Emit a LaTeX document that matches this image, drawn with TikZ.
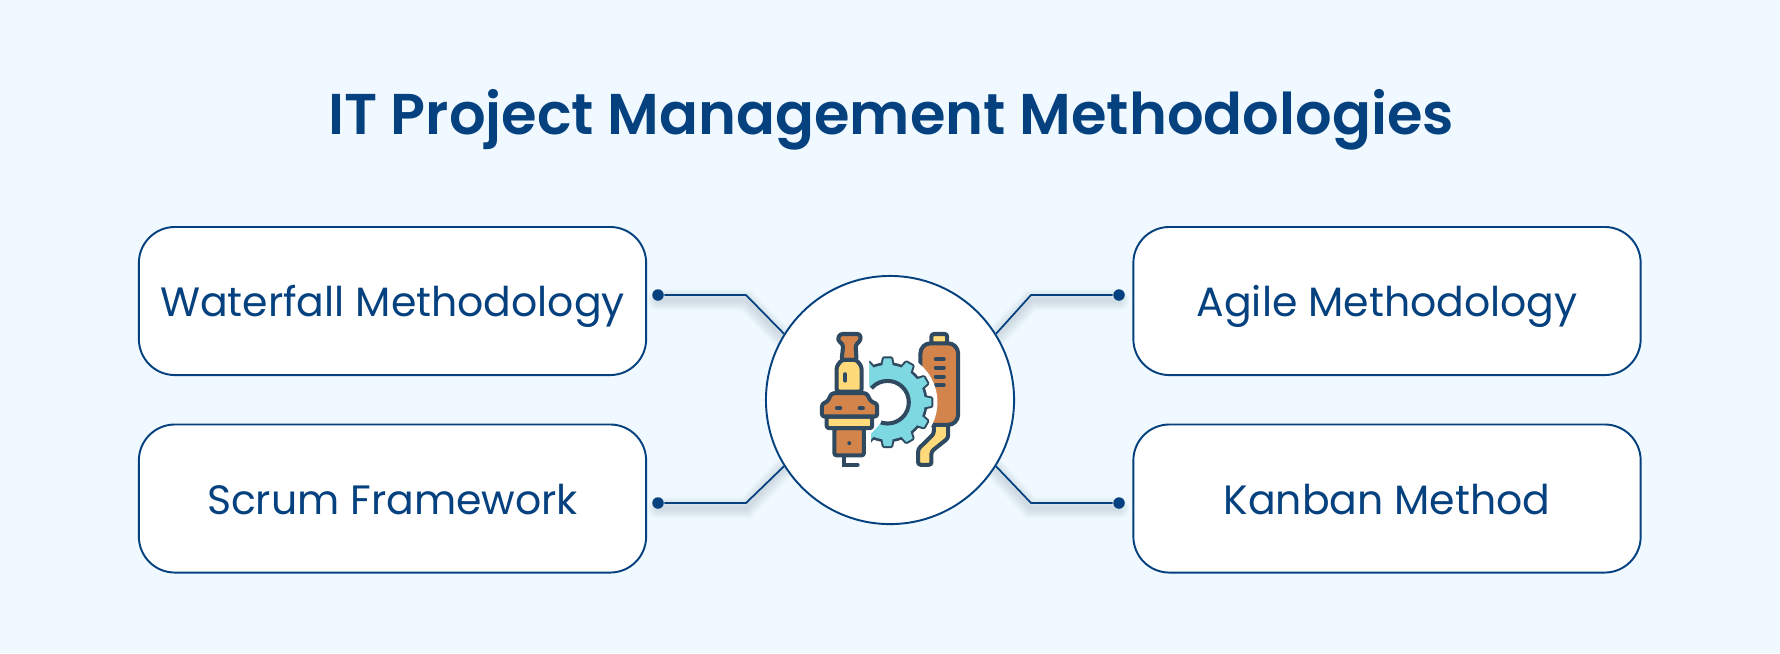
\documentclass[tikz,border=0pt]{standalone}
\usepackage{fontspec}
\setmainfont{Poppins}
\newfontfamily\titlefont{Poppins SemiBold}
\usetikzlibrary{positioning}
\definecolor{navy}{HTML}{05417F}
\definecolor{backcol}{HTML}{F0F9FF}
\definecolor{icondark}{HTML}{2F4A60}
\definecolor{iconorange}{HTML}{D2844B}
\definecolor{iconyellow}{HTML}{FFDA7A}
\definecolor{iconcyan}{HTML}{7ED8E2}
\tikzset{
  methodbox/.style={draw=navy, line width=0.55pt, fill=white, rounded corners=0.36cm,
    minimum width=5.07cm, minimum height=1.48cm, inner sep=0pt, text=navy,
    text height=10pt, text depth=1pt, font=\fontsize{11.65}{14}\selectfont},
  hubnode/.style={circle, draw=navy, line width=0.55pt, fill=white, minimum size=2.48cm, inner sep=0pt},
  enddot/.style={circle, fill=navy, minimum size=0.115cm, inner sep=0pt},
  wire/.style={draw=navy, line width=0.5pt},
  wireshade/.style={draw=icondark, opacity=0.028, line cap=round},
  iconpart/.style={draw=icondark, line width=1.15pt, line join=round, rounded corners=0.025cm},
  iconmark/.style={draw=icondark, line width=1.15pt, line cap=round}
}
\begin{document}
\begin{tikzpicture}[x=0.01cm, y=-0.01cm]
\fill[backcol] (0,0) rectangle (1780,653);
\useasboundingbox (0,0) rectangle (1780,653);

\node[text=navy, font=\fontsize{16.35}{20}\titlefont] (title) at (891,120) {IT Project Management Methodologies};

% shades under the wires
\foreach \w in {1,2,...,6}{
\draw[wireshade, line width=\w pt, yshift=-0.05cm] (658,295) -- (746,295) -- (783,333);
\draw[wireshade, line width=\w pt, yshift=-0.05cm] (658,503) -- (746,503) -- (783,464);
\draw[wireshade, line width=\w pt, yshift=-0.05cm] (1119,295) -- (1031,295) -- (995,333);
\draw[wireshade, line width=\w pt, yshift=-0.05cm] (1119,503) -- (1031,503) -- (995,464);
}

\node[methodbox] (waterfall) at (392.5,301) {Waterfall Methodology};
\node[methodbox] (scrum) at (392.5,498.5) {Scrum Framework};
\node[methodbox] (agile) at (1387,301) {Agile Methodology};
\node[methodbox] (kanban) at (1387,498.5) {Kanban Method};
\node[hubnode] (hub) at (890,400) {};

\node[enddot] (dotwf) at (658,295) {};
\node[enddot] (dotsc) at (658,503) {};
\node[enddot] (dotag) at (1119,295) {};
\node[enddot] (dotkb) at (1119,503) {};
\coordinate (bendwf) at (746,295);
\coordinate (bendsc) at (746,503);
\coordinate (bendag) at (1031,295);
\coordinate (bendkb) at (1031,503);

\draw[wire] (dotwf) -- (bendwf) -- (hub.148);
\draw[wire] (dotsc) -- (bendsc) -- (hub.212);
\draw[wire] (dotag) -- (bendag) -- (hub.32);
\draw[wire] (dotkb) -- (bendkb) -- (hub.328);

\begin{scope}[shift={(790,310)}, x=0.00333cm, y=-0.00333cm]
% muffler
\draw[iconpart, fill=iconyellow] (425,72) rectangle (472,102);
\draw[iconpart, fill=iconyellow] (432,340) -- (475,340) -- (475,385) -- (425,425) -- (425,465) -- (385,465) -- (385,418) -- (432,372) -- cycle;
\draw[iconpart, fill=iconorange, rounded corners=0.1cm] (392,100) rectangle (505,345);
\foreach \y in {148,173,200,226}{
\draw[iconmark] (438,\y) -- (462,\y);
}
% gear
\fill[white] (293,277) circle (150);
\foreach \a in {0,30,...,330}{
\draw[iconpart, rounded corners=0pt, shift={(293,277)}, rotate=\a] (100,-18) -- (132,-11) -- (132,11) -- (100,18) -- cycle;
}
\draw[iconpart, fill=iconcyan] (293,277) circle (114);
\foreach \a in {0,30,...,330}{
\fill[iconcyan, shift={(293,277)}, rotate=\a] (100,-18) -- (132,-11) -- (132,11) -- (100,18) -- cycle;
}
\fill[iconcyan] (293,277) circle (112);
\draw[iconpart, fill=white] (293,277) circle (64);
\fill[white] (120,130) -- (238,130) -- (238,230) -- (293,277) -- (272,340) -- (243,372) -- (243,420) -- (120,420) -- cycle;
% spark plug
\draw[iconpart, fill=iconorange] (150,72) -- (210,72) -- (213,90) -- (197,105) -- (200,150) -- (155,150) -- (160,105) -- (143,90) -- cycle;
\draw[iconpart, fill=iconyellow] (140,245) -- (140,170) -- (155,150) -- (200,150) -- (215,170) -- (215,245) -- cycle;
\draw[iconmark] (166,193) -- (166,212);
\draw[iconmark] (163,440) -- (163,465) -- (203,465);
\draw[iconpart, fill=iconorange] (133,355) rectangle (222,437);
\fill[icondark] (178,400) circle (6);
\draw[iconpart, fill=iconyellow] (110,320) rectangle (247,355);
\draw[iconpart, fill=iconorange] (113,275) -- (125,250) -- (230,250) -- (243,275) -- (262,282) -- (262,320) -- (96,320) -- (96,282) -- cycle;
\draw[iconmark] (141,295) -- (151,295);
\draw[iconmark] (209,295) -- (219,295);
\end{scope}
\end{tikzpicture}
\end{document}
